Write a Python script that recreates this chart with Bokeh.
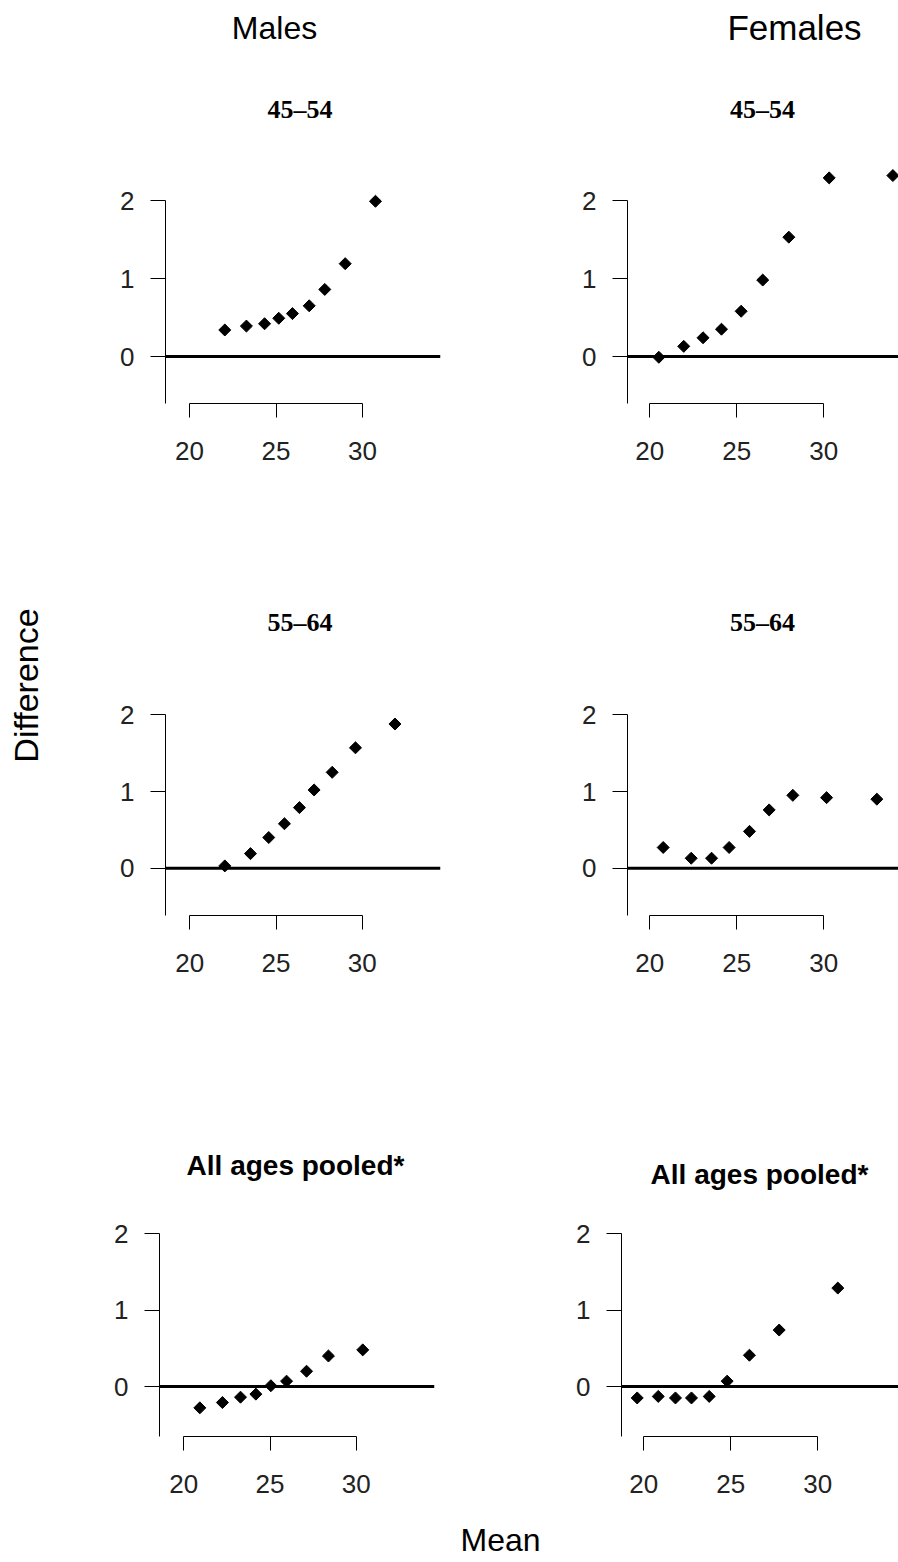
import numpy as np
from bokeh.plotting import figure
from bokeh.models import Range1d, Span, Label, FixedTicker
from bokeh.layouts import column, row
from bokeh.embed import file_html
from bokeh.resources import INLINE

# ---- data ----
m1_x = [22.04, 23.29, 24.34, 25.16, 25.95, 26.92, 27.82, 29.0, 30.75]
m1_y = [0.34, 0.39, 0.42, 0.49, 0.55, 0.65, 0.86, 1.19, 1.99]
f1_x = [20.52, 21.95, 23.06, 24.12, 25.25, 26.49, 27.99, 30.31, 33.97]
f1_y = [-0.01, 0.13, 0.24, 0.35, 0.58, 0.98, 1.53, 2.29, 2.32]
m2_x = [22.03, 23.52, 24.58, 25.49, 26.36, 27.21, 28.26, 29.61, 31.9]
m2_y = [0.03, 0.19, 0.40, 0.58, 0.79, 1.02, 1.25, 1.57, 1.88]
f2_x = [20.77, 22.38, 23.55, 24.56, 25.73, 26.86, 28.22, 30.16, 33.05]
f2_y = [0.27, 0.13, 0.13, 0.27, 0.48, 0.76, 0.95, 0.92, 0.90]
m3_x = [20.93, 22.24, 23.29, 24.18, 25.05, 25.96, 27.12, 28.39, 30.38]
m3_y = [-0.28, -0.21, -0.14, -0.10, 0.01, 0.07, 0.20, 0.40, 0.48]
f3_x = [19.62, 20.83, 21.82, 22.74, 23.76, 24.79, 26.07, 27.78, 31.15]
f3_y = [-0.15, -0.13, -0.15, -0.15, -0.13, 0.07, 0.41, 0.74, 1.29]

x_ticks = [20, 25, 30]
y_ticks = [0, 1, 2]
col_titles = ["Males", "Females"]
row_titles = ["45\u201354", "55\u201364", "All ages pooled*"]
x_title = "Mean"
y_title = "Difference"

TICK_FONT = "Liberation Sans"
HEAD_FONT = "Liberation Sans"
AGE_FONT = "Liberation Serif"

W, H = 898, 1562
STRIP_W = 48          # left strip holding the y title
LEFT_X, MID_X = 48, 500


def make_panel(box, frame, scale, xs, ys):
    fx0, fy0, fw, fh = box
    fl, fr, ft, fb = frame
    x20, xper, y0, yper = scale
    xs0 = 20 + (fl - x20) / xper
    xs1 = 20 + (fr - x20) / xper
    ys0 = (y0 - fb) / yper
    ys1 = (y0 - ft) / yper
    p = figure(width=fw, height=fh, x_range=Range1d(xs0, xs1), y_range=Range1d(ys0, ys1),
               min_border_left=fl - fx0, min_border_right=fx0 + fw - fr,
               min_border_top=ft - fy0, min_border_bottom=fy0 + fh - fb,
               toolbar_location=None, output_backend="svg", title=None)
    p.outline_line_color = None
    p.grid.visible = False
    for ax, ticks, bounds, tout, stand in ((p.xaxis, x_ticks, (20, 30), 14, 24),
                                           (p.yaxis, y_ticks, (ys0, 2), 15, 16)):
        ax.ticker = FixedTicker(ticks=ticks)
        ax.bounds = bounds
        ax.major_tick_out = tout
        ax.major_tick_in = 0
        ax.minor_tick_out = 0
        ax.minor_tick_in = 0
        ax.axis_line_color = "black"
        ax.major_tick_line_color = "black"
        ax.major_label_text_font = TICK_FONT
        ax.major_label_text_font_size = "26px"
        ax.major_label_text_color = "#222222"
        ax.major_label_standoff = stand
    p.add_layout(Span(location=0, dimension="width", line_color="black", line_width=3))
    p.scatter(xs, ys, marker="square", angle=np.pi / 4, size=8.5,
              fill_color="black", line_color="black")
    return p


def text_strip(x0, y0, w, h):
    s = figure(width=w, height=h, x_range=Range1d(x0, x0 + w), y_range=Range1d(y0 + h, y0),
               min_border=0, x_axis_type=None, y_axis_type=None,
               toolbar_location=None, output_backend="svg", title=None)
    s.outline_line_color = None
    s.grid.visible = False
    return s


def add_text(s, x, y, text, font, size, style="normal", angle=0.0):
    s.add_layout(Label(x=x, y=y, text=text, text_font=font, text_font_size=size,
                       text_font_style=style, text_align="center",
                       text_baseline="middle", angle=angle, text_color="black"))


LW = MID_X - LEFT_X      # 452
RW = W - MID_X           # 398

# strips of text
s1 = text_strip(LEFT_X, 0, W - LEFT_X, 145)
add_text(s1, 274, 27, col_titles[0], HEAD_FONT, "32px")
add_text(s1, 794, 27, col_titles[1], HEAD_FONT, "35px")
add_text(s1, 299.5, 109, row_titles[0], AGE_FONT, "26px", "bold")
add_text(s1, 762, 109, row_titles[0], AGE_FONT, "26px", "bold")

p1 = make_panel((LEFT_X, 145, LW, 375), (165, 440, 150, 403), (189.0, 17.3, 356.0, 78.0), m1_x, m1_y)
p2 = make_panel((MID_X, 145, RW, 375), (627, 898, 150, 403), (649.3, 17.4, 356.0, 78.0), f1_x, f1_y)

s2 = text_strip(LEFT_X, 520, W - LEFT_X, 120)
add_text(s2, 299.5, 621.5, row_titles[1], AGE_FONT, "26px", "bold")
add_text(s2, 762, 621.5, row_titles[1], AGE_FONT, "26px", "bold")

p3 = make_panel((LEFT_X, 640, LW, 400), (165, 440, 650, 915), (189.3, 17.24, 867.7, 76.7), m2_x, m2_y)
p4 = make_panel((MID_X, 640, RW, 400), (627, 898, 650, 915), (649.3, 17.4, 867.7, 76.7), f2_x, f2_y)

s3 = text_strip(LEFT_X, 1040, W - LEFT_X, 155)
add_text(s3, 295, 1165, row_titles[2], HEAD_FONT, "28px", "bold")
add_text(s3, 759, 1174, row_titles[2], HEAD_FONT, "28px", "bold")

p5 = make_panel((LEFT_X, 1195, LW, 315), (159, 434, 1205, 1436), (183.3, 17.24, 1386.0, 76.3), m3_x, m3_y)
p6 = make_panel((MID_X, 1195, RW, 315), (621, 898, 1205, 1436), (643.3, 17.4, 1386.0, 76.3), f3_x, f3_y)

foot = text_strip(LEFT_X, 1510, W - LEFT_X, 52)
add_text(foot, 500, 1539, x_title, HEAD_FONT, "32px")

side = text_strip(0, 0, STRIP_W, H)
add_text(side, 25, 685, y_title, HEAD_FONT, "34px", angle=np.pi / 2)

main = column(s1, row(p1, p2), s2, row(p3, p4), s3, row(p5, p6), foot)
layout = row(side, main)
open("out.html", "w").write(file_html(layout, INLINE))
